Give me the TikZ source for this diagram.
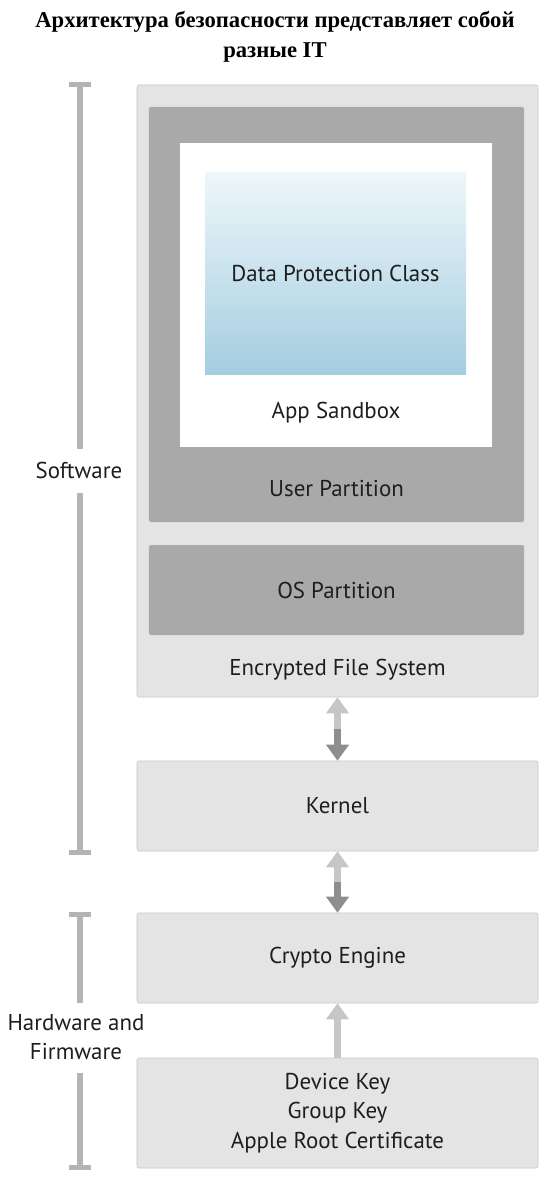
\documentclass[tikz,border=0pt]{standalone}
\usepackage{fontspec}
\setmainfont{PT Sans}
\newfontfamily\titlefont{Liberation Serif}
\usetikzlibrary{arrows.meta}
\usetikzlibrary{positioning}
\usetikzlibrary{calc}
\definecolor{boxgray}{HTML}{E4E4E4}
\definecolor{linegray}{HTML}{C8C8C8}
\definecolor{darkgray}{HTML}{A9A9A9}
\definecolor{bargray}{HTML}{B4B4B4}
\definecolor{textgray}{HTML}{1E1E1E}
\definecolor{dpctop}{HTML}{EEF7FA}
\definecolor{dpcbot}{HTML}{A4CDE0}
\definecolor{tiplight}{HTML}{C6C6C6}
\definecolor{tipdark}{HTML}{8E8E8E}
\tikzset{layer/.style = {draw = linegray, fill = boxgray, rounded corners = 1.5pt,
                         minimum width = 100.25mm, minimum height = 22.5mm,
                         text = textgray, font = \fontsize{16.3}{21.2}\selectfont, align = center}}
\tikzset{part/.style = {fill = darkgray, rounded corners = 1.5pt, minimum width = 93.75mm}}
\tikzset{lbl/.style = {text = textgray, font = \fontsize{16.3}{20.5}\selectfont, align = center}}
\tikzset{bar/.style = {bargray, line width = 1.3mm}}
\tikzset{barend/.style = {-{Bar[width = 5.5mm, line width = 1.3mm]}}}
\tikzset{flowup/.style = {line width = 1.6mm, -{Triangle[width = 5.5mm, length = 4mm]}}}

\begin{document}
\begin{tikzpicture}[x = 0.25mm, y = -0.25mm]
    \useasboundingbox [fill = white] (0, 0) rectangle (550, 1180);

    \node [font = \titlefont\bfseries\fontsize{16.1}{21.5}\selectfont, align = center] (title) at (275, 37)
        {Архитектура безопасности представляет собой\\разные IT};

    \node [layer, minimum height = 153mm] (efs) at (337.5, 391) {};
    \node [part, minimum height = 103.75mm] (user) at (336.5, 314.5) {};
    \node [fill = white, minimum width = 78mm, minimum height = 76mm] (sandbox) at (336, 295) {};
    \node [top color = dpctop, bottom color = dpcbot, minimum width = 65.25mm, minimum height = 50.25mm,
           lbl] (dpc) at (335.5, 273.5) {Data Protection Class};
    \node [lbl] (sandboxlbl) at (336, 413) {App Sandbox};
    \node [lbl] (userlbl) at (336.5, 489) {User Partition};
    \node [part, minimum height = 22.5mm, lbl] (os) at (336.5, 590) {OS Partition};
    \node [lbl] (efslbl) at (337.5, 670) {Encrypted File System};

    \node [layer] (kernel) at (337.5, 806) {Kernel};
    \node [layer] (crypto) at (337.5, 958) {Crypto Engine};
    \node [layer, minimum height = 27.5mm] (device) at (337.5, 1113)
        {Device Key\\Group Key\\Apple Root Certificate};

    \draw [flowup, tiplight] ($(efs.south)!0.5!(kernel.north)$) -- (efs.south);
    \draw [flowup, tipdark] ($(efs.south)!0.5!(kernel.north)$) -- (kernel.north);
    \draw [flowup, tiplight] ($(kernel.south)!0.5!(crypto.north)$) -- (kernel.south);
    \draw [flowup, tipdark] ($(kernel.south)!0.5!(crypto.north)$) -- (crypto.north);
    \draw [flowup, tiplight] (device.north) -- (crypto.south);

    \node [lbl] (sw) at (79, 470) {Software};
    \coordinate (swtop) at (80, 82);
    \coordinate (swbot) at (80, 855);
    \draw [bar, barend] (sw.north -| swtop) ++(0, -8) -- (swtop);
    \draw [bar, barend] (sw.south -| swbot) ++(0, 10) -- (swbot);

    \node [lbl] (hw) at (76, 1037) {Hardware and\\Firmware};
    \coordinate (hwtop) at (80, 912);
    \coordinate (hwbot) at (80, 1170);
    \draw [bar, barend] (hw.north -| hwtop) ++(0, -6) -- (hwtop);
    \draw [bar, barend] (hw.south -| hwbot) ++(0, 8) -- (hwbot);
\end{tikzpicture}
\end{document}
